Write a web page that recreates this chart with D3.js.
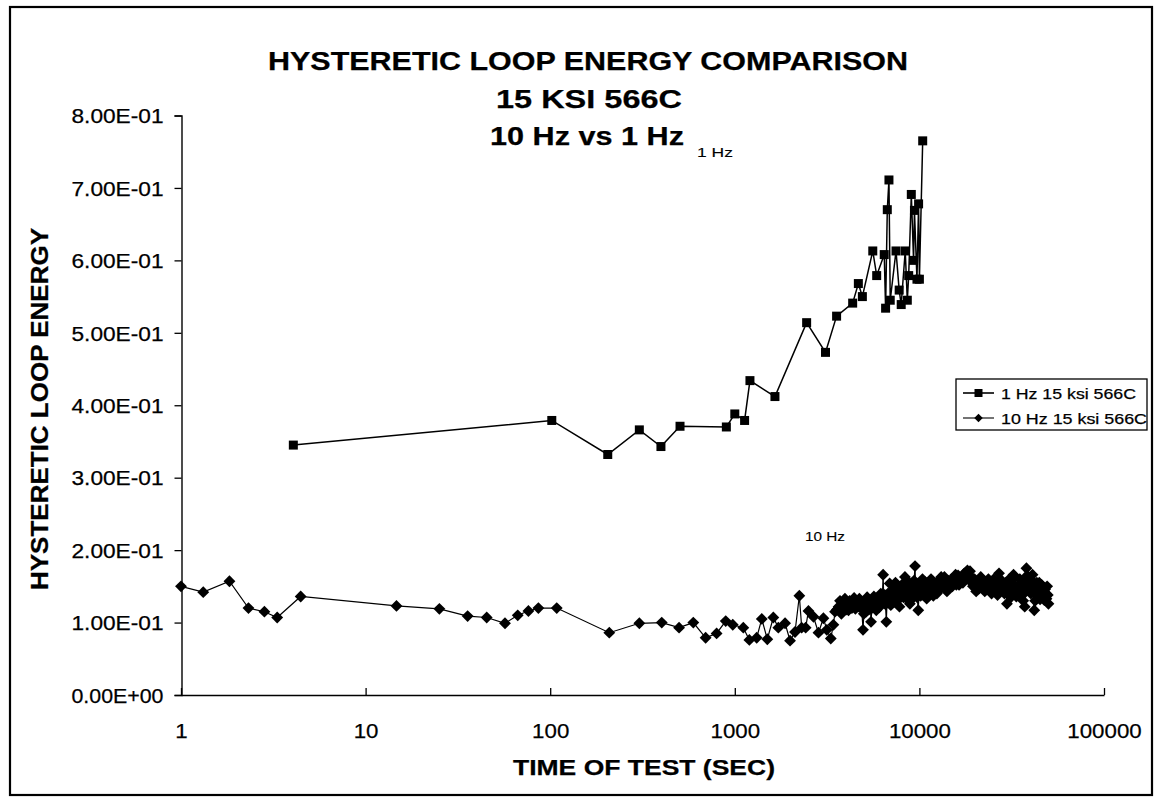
<!DOCTYPE html>
<html><head><meta charset="utf-8">
<script src="https://cdn.jsdelivr.net/npm/d3@7"></script>
<style>
body{margin:0;background:#fff;}
svg{display:block;}
text{font-family:"Liberation Sans",Arial,Helvetica,sans-serif;fill:#000;stroke:#000;stroke-width:0.25px;}
</style>
</head><body>
<svg id="c" width="1159" height="801"></svg>
<script>
// ---- data ----
const titleLines = ["HYSTERETIC LOOP ENERGY COMPARISON", "15 KSI 566C", "10 Hz vs 1 Hz"];
const xTickValues = [1, 10, 100, 1000, 10000, 100000];
const yTickValues = [0, 0.1, 0.2, 0.3, 0.4, 0.5, 0.6, 0.7, 0.8];
const seriesNames = ["1 Hz 15 ksi 566C", "10 Hz 15 ksi 566C"];

const hz1Time = [4.06, 102, 205, 304, 398, 505, 900, 1000, 1130, 1208, 1650, 2450, 3100, 3560, 4350,
  4670, 4910, 5590, 5870, 6450, 6560, 6700, 6840, 6950, 7470, 7770, 7970, 8380, 8600, 8750,
  9040, 9300, 9400, 9700, 9900, 10000, 10420];
const hz1Energy = [0.345, 0.379, 0.332, 0.366, 0.343, 0.371, 0.370, 0.388, 0.379, 0.434, 0.412, 0.514, 0.473, 0.523, 0.541,
  0.568, 0.550, 0.613, 0.579, 0.608, 0.534, 0.670, 0.711, 0.545, 0.613, 0.559, 0.539, 0.613, 0.545, 0.579,
  0.691, 0.600, 0.669, 0.574, 0.678, 0.574, 0.765];

const hz10EarlyTime = [1, 1.32, 1.83, 2.32, 2.83, 3.32, 4.45, 14.7, 25.1, 35.7, 45.3, 56.9, 66.7, 76.2, 86.3,
  108.5, 209, 304, 402, 499, 596, 695, 797, 893, 975, 1112, 1199, 1314, 1400, 1500,
  1617, 1721, 1872, 1992, 2119, 2237, 2303, 2420, 2506, 2668, 2839, 3020, 3150, 3311, 3420, 3492];
const hz10EarlyEnergy = [0.150, 0.142, 0.157, 0.120, 0.115, 0.107, 0.136, 0.123, 0.119, 0.109, 0.107, 0.099, 0.110, 0.116, 0.120,
  0.120, 0.086, 0.099, 0.100, 0.093, 0.100, 0.079, 0.085, 0.102, 0.097, 0.093, 0.076, 0.079, 0.105, 0.077,
  0.107, 0.093, 0.099, 0.075, 0.087, 0.137, 0.093, 0.093, 0.116, 0.108, 0.086, 0.106, 0.090, 0.078, 0.097, 0.115];

const hz10LateTime = [
  3580, 3650, 3715, 3780, 3840, 3900, 3950, 4010, 4070, 4130, 4190, 4250, 4310, 4370, 4430,
  4500, 4580, 4660, 4730, 4800, 4870, 4950, 5000, 5050, 5100, 5150, 5210, 5270, 5320, 5370,
  5420, 5470, 5530, 5600, 5670, 5740, 5790, 5840, 5920, 6000, 6060, 6120, 6180, 6230, 6300,
  6360, 6420, 6480, 6550, 6620, 6680, 6750, 6820, 6900, 6950, 7000, 7080, 7150, 7250, 7340,
  7420, 7500, 7580, 7650, 7720, 7800, 7900, 8000, 8100, 8200, 8280, 8350, 8430, 8520, 8600,
  8700, 8790, 8880, 8960, 9050, 9150, 9250, 9360, 9470, 9530, 9600, 9730, 9860, 9950, 10050,
  10160, 10280, 10390, 10500, 10600, 10700, 10830, 10950, 11070, 11200, 11320, 11450, 11560, 11680, 11790,
  11900, 12020, 12150, 12300, 12440, 12570, 12700, 12850, 13000, 13120, 13250, 13400, 13530, 13660, 13800,
  13950, 14100, 14300, 14500, 14700, 14900, 15100, 15300, 15500, 15700, 15850, 16000, 16200, 16400, 16650,
  16900, 17200, 17500, 17650, 17800, 18000, 18200, 18400, 18600, 18800, 19000, 19250, 19500, 19900, 20300,
  20550, 20800, 21000, 21200, 21500, 21800, 22200, 22600, 22950, 23300, 23650, 24000, 24300, 24600, 24950,
  25300, 25650, 26000, 26250, 26500, 26750, 27000, 27400, 27800, 28200, 28600, 28900, 29200, 29500, 29800,
  30100, 30400, 30700, 31000, 31300, 31600, 31800, 32000, 32350, 32700, 33100, 33500, 33900, 34300, 34650,
  35000, 35400, 35800, 36150, 36500, 36850, 37200, 37600, 38000, 38350, 38700, 39100, 39500, 39850, 40200,
  40600, 41000, 41450, 41900, 42350, 42800, 43250, 43700, 44150, 44600, 45050, 45500, 45950, 46400, 46950,
  47500, 47950, 48400, 48800, 49200, 49600, 50000];
const hz10LateEnergy = [
  0.118, 0.122, 0.130, 0.112, 0.120, 0.127, 0.133, 0.118, 0.124, 0.117, 0.130, 0.126, 0.120, 0.129, 0.134,
  0.119, 0.127, 0.122, 0.133, 0.128, 0.119, 0.090, 0.112, 0.118, 0.130, 0.115, 0.135, 0.125, 0.118, 0.131,
  0.124, 0.101, 0.120, 0.128, 0.136, 0.122, 0.130, 0.117, 0.127, 0.133, 0.121, 0.126, 0.140, 0.129, 0.136,
  0.166, 0.130, 0.138, 0.125, 0.101, 0.130, 0.140, 0.128, 0.154, 0.135, 0.124, 0.138, 0.145, 0.128, 0.133,
  0.155, 0.148, 0.130, 0.138, 0.150, 0.122, 0.135, 0.142, 0.153, 0.135, 0.145, 0.163, 0.140, 0.149, 0.132,
  0.138, 0.155, 0.126, 0.141, 0.150, 0.133, 0.140, 0.158, 0.178, 0.150, 0.143, 0.135, 0.117, 0.140, 0.152,
  0.137, 0.149, 0.160, 0.138, 0.145, 0.156, 0.142, 0.133, 0.148, 0.150, 0.138, 0.145, 0.160, 0.154, 0.143,
  0.137, 0.150, 0.152, 0.145, 0.140, 0.155, 0.158, 0.146, 0.148, 0.163, 0.160, 0.150, 0.156, 0.163, 0.147,
  0.155, 0.143, 0.158, 0.149, 0.155, 0.160, 0.150, 0.155, 0.162, 0.166, 0.152, 0.158, 0.165, 0.152, 0.160,
  0.163, 0.155, 0.168, 0.162, 0.160, 0.170, 0.172, 0.160, 0.166, 0.171, 0.161, 0.155, 0.150, 0.160, 0.143,
  0.152, 0.158, 0.147, 0.152, 0.163, 0.160, 0.150, 0.143, 0.156, 0.150, 0.160, 0.154, 0.145, 0.140, 0.152,
  0.160, 0.150, 0.147, 0.155, 0.138, 0.150, 0.168, 0.160, 0.155, 0.145, 0.152, 0.140, 0.145, 0.155, 0.126,
  0.140, 0.150, 0.160, 0.143, 0.135, 0.155, 0.148, 0.159, 0.166, 0.148, 0.140, 0.136, 0.145, 0.150, 0.140,
  0.160, 0.150, 0.143, 0.155, 0.130, 0.140, 0.122, 0.148, 0.175, 0.165, 0.158, 0.145, 0.149, 0.160, 0.140,
  0.150, 0.166, 0.145, 0.117, 0.130, 0.145, 0.155, 0.136, 0.147, 0.155, 0.132, 0.140, 0.152, 0.149, 0.138,
  0.131, 0.146, 0.140, 0.133, 0.150, 0.138, 0.126];

// ---- build ----
const svg = d3.select("#c");
const W = 1159, H = 801;
svg.append("rect").attr("width", W).attr("height", H).attr("fill", "#fff");
svg.append("rect").attr("x", 10).attr("y", 7).attr("width", 1142).attr("height", 788)
  .attr("fill", "none").attr("stroke", "#000").attr("stroke-width", 2.2);

const x = d3.scaleLog().domain([1, 100000]).range([181, 1104]);
const y = d3.scaleLinear().domain([0, 0.8]).range([695, 115.5]);

function fmtE(v) {
  const parts = v.toExponential(2).split("e");
  let e = parseInt(parts[1], 10);
  const sign = e < 0 ? "-" : "+";
  e = Math.abs(e);
  return parts[0] + "E" + sign + (e < 10 ? "0" + e : "" + e);
}

// y axis
const gy = svg.append("g").attr("transform", "translate(181.5,0)")
  .call(d3.axisLeft(y).tickValues(yTickValues).tickFormat(fmtE).tickSize(7).tickPadding(11));
gy.select(".domain").attr("stroke", "#000").attr("stroke-width", 1.4);
gy.selectAll(".tick line").attr("stroke", "#000").attr("stroke-width", 1.3);
gy.selectAll(".tick text").attr("font-size", 20).attr("font-family", "Liberation Sans, Arial, sans-serif")
  .attr("textLength", 92).attr("lengthAdjust", "spacingAndGlyphs").attr("dy", "0.36em");

// x axis
const gx = svg.append("g").attr("transform", "translate(0,695)")
  .call(d3.axisBottom(x).tickValues(xTickValues).tickFormat(d3.format("d")).tickSizeInner(-7).tickSizeOuter(0));
gx.select(".domain").attr("stroke", "#000").attr("stroke-width", 1.4);
gx.selectAll(".tick line").attr("stroke", "#000").attr("stroke-width", 1.3);
gx.selectAll(".tick text").attr("font-size", 21).attr("font-family", "Liberation Sans, Arial, sans-serif")
  .attr("y", 43).attr("dy", 0)
  .attr("textLength", d => String(d).length * 12.4).attr("lengthAdjust", "spacingAndGlyphs");

// titles
const titleY = [70, 107.5, 145];
const titleW = [640, 186, 194];
const titleX = [588, 589, 587];
titleLines.forEach((t, i) => {
  svg.append("text").attr("x", titleX[i]).attr("y", titleY[i]).attr("text-anchor", "middle")
    .attr("font-size", 26).attr("font-weight", "bold").attr("textLength", titleW[i])
    .attr("lengthAdjust", "spacingAndGlyphs").text(t);
});
svg.append("text").attr("x", 644).attr("y", 775).attr("text-anchor", "middle")
  .attr("font-size", 22).attr("font-weight", "bold").attr("textLength", 262)
  .attr("lengthAdjust", "spacingAndGlyphs").text("TIME OF TEST (SEC)");
svg.append("text").attr("transform", "translate(48,409) rotate(-90)").attr("text-anchor", "middle")
  .attr("font-size", 24).attr("font-weight", "bold").attr("textLength", 362)
  .attr("lengthAdjust", "spacingAndGlyphs").text("HYSTERETIC LOOP ENERGY");

// annotations
svg.append("text").attr("x", 697).attr("y", 157).attr("font-size", 12).style("stroke-width", "0.1px")
  .attr("textLength", 36).attr("lengthAdjust", "spacingAndGlyphs").text("1 Hz");
svg.append("text").attr("x", 805).attr("y", 541).attr("font-size", 13).style("stroke-width", "0.1px")
  .attr("textLength", 40).attr("lengthAdjust", "spacingAndGlyphs").text("10 Hz");

// series data
const hz10TimeAll = hz10EarlyTime.concat(hz10LateTime);
const hz10EnergyAll = hz10EarlyEnergy.concat(hz10LateEnergy);
const hz1 = hz1Time.map((t, i) => ({t, e: hz1Energy[i]}));
const hz10 = hz10TimeAll.map((t, i) => ({t, e: hz10EnergyAll[i]}));

const line = d3.line().x(d => x(d.t)).y(d => y(d.e));
const square = d3.symbol(d3.symbolSquare, 81);
const diamond = d3.symbol(d3.symbolSquare, 70);

// 10 Hz series
svg.append("path").datum(hz10).attr("d", line).attr("fill", "none")
  .attr("stroke", "#000").attr("stroke-width", 1.2);
svg.append("g").selectAll("path").data(hz10).join("path")
  .attr("d", diamond)
  .attr("transform", d => `translate(${x(d.t)},${y(d.e)}) rotate(45)`)
  .attr("fill", "#000");

// 1 Hz series
svg.append("path").datum(hz1).attr("d", line).attr("fill", "none")
  .attr("stroke", "#000").attr("stroke-width", 1.5);
svg.append("g").selectAll("path").data(hz1).join("path")
  .attr("d", square)
  .attr("transform", d => `translate(${x(d.t)},${y(d.e)})`)
  .attr("fill", "#000");

// legend
const lg = svg.append("g");
lg.append("rect").attr("x", 956).attr("y", 379).attr("width", 191).attr("height", 51)
  .attr("fill", "#fff").attr("stroke", "#000").attr("stroke-width", 1.3);
const legY = [393, 418];
const legW = [135, 146];
seriesNames.forEach((name, i) => {
  lg.append("line").attr("x1", 963).attr("x2", 994).attr("y1", legY[i]).attr("y2", legY[i])
    .attr("stroke", "#000").attr("stroke-width", i === 0 ? 1.6 : 1.1);
  lg.append("path").attr("d", i === 0 ? d3.symbol(d3.symbolSquare, 64) : d3.symbol(d3.symbolSquare, 36))
    .attr("transform", `translate(978.5,${legY[i]})` + (i === 0 ? "" : " rotate(45)"))
    .attr("fill", "#000");
  lg.append("text").attr("x", 1001).attr("y", legY[i] + 6).attr("font-size", 15)
    .attr("textLength", legW[i]).attr("lengthAdjust", "spacingAndGlyphs").text(name);
});
</script>
</body></html>
